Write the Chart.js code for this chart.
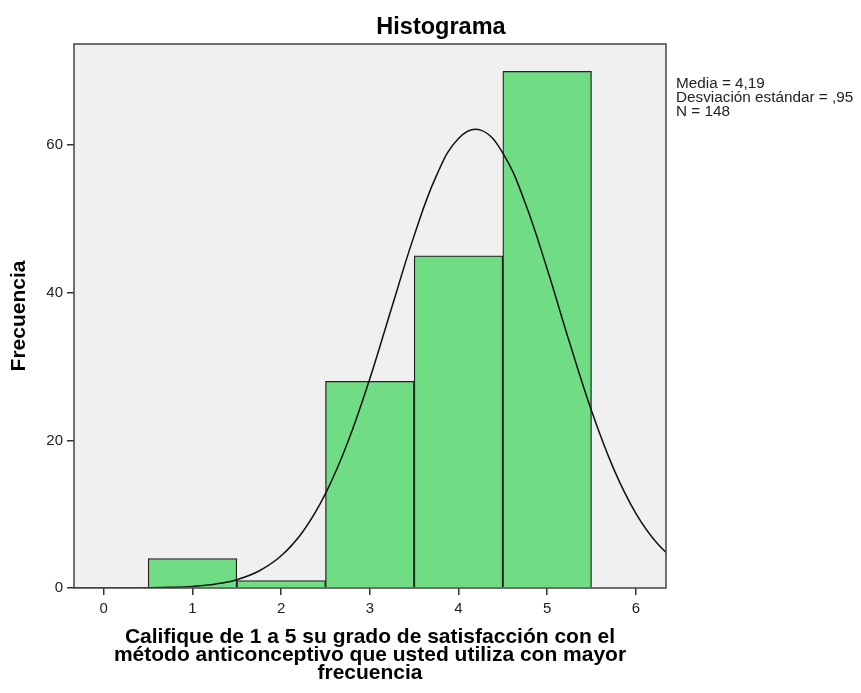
<!DOCTYPE html>
<html>
<head>
<meta charset="utf-8">
<script src="https://cdn.jsdelivr.net/npm/chart.js@4/dist/chart.umd.min.js"></script>
<style>
  body { margin: 0; background: #fff; }
  #wrap { position: relative; width: 861px; height: 693px; font-family: "Liberation Sans", Arial, sans-serif; }
  #title { position: absolute; left: 0; width: 882px; top: 13px; text-align: center; font-weight: bold; font-size: 23.5px; color: #000; }
  #stats { position: absolute; left: 676px; top: 76px; font-size: 15.3px; line-height: 14px; color: #222; }
</style>
</head>
<body>
<div id="wrap">
  <canvas id="hist" width="861" height="693"></canvas>
  <div id="title">Histograma</div>
  <div id="stats">Media = 4,19<br>Desviación estándar = ,95<br>N = 148</div>
</div>
<script>
// Histograma SPSS: barras de frecuencia + curva normal
const binCenters = [1, 2, 3, 4, 5];
const binCounts = [4, 1, 28, 45, 70];
const curveX = [-0.5, -0.25, 0, 0.25, 0.5, 0.75, 1, 1.25, 1.5, 1.75, 2, 2.25, 2.5, 2.75, 3, 3.25, 3.5, 3.75, 4, 4.25, 4.5, 4.75, 5, 5.25, 5.5, 5.75, 6, 6.25, 6.5];
const curveY = [0, 0, 0, 0.01, 0.03, 0.09, 0.22, 0.52, 1.13, 2.3, 4.36, 7.73, 12.78, 19.7, 28.35, 38.11, 47.74, 55.83, 60.91, 62.03, 58.93, 52.24, 43.21, 33.35, 24.02, 16.14, 10.12, 5.92, 3.23];
const xTicks = [0, 1, 2, 3, 4, 5, 6];
const yTicks = [0, 20, 40, 60];
const xTitle = ['Califique de 1 a 5 su grado de satisfacción con el', 'método anticonceptivo que usted utiliza con mayor', 'frecuencia'];

const plotFrame = {
  id: 'plotFrame',
  beforeDraw(chart) {
    const { ctx, chartArea: a } = chart;
    ctx.save();
    ctx.fillStyle = '#f0f0f0';
    ctx.fillRect(a.left, a.top, a.right - a.left, a.bottom - a.top);
    ctx.restore();
  },
  afterDatasetsDraw(chart) {
    const { ctx, chartArea: a } = chart;
    ctx.save();
    ctx.strokeStyle = '#444';
    ctx.lineWidth = 1.5;
    ctx.strokeRect(a.left, a.top, a.right - a.left, a.bottom - a.top);
    ctx.restore();
  }
};

const tickFont = { family: '"Liberation Sans", Arial, sans-serif', size: 15 };
const titleFont = { family: '"Liberation Sans", Arial, sans-serif', size: 21, weight: 'bold', lineHeight: '18px' };

new Chart(document.getElementById('hist'), {
  data: {
    datasets: [
      {
        type: 'line',
        data: curveX.map((x, i) => ({ x: x, y: curveY[i] })),
        borderColor: '#111',
        borderWidth: 1.5,
        pointRadius: 0,
        tension: 0.4,
        fill: false
      },
      {
        type: 'bar',
        data: binCenters.map((x, i) => ({ x: x, y: binCounts[i] })),
        backgroundColor: '#70dc84',
        borderColor: '#222',
        borderWidth: 1.3,
        barPercentage: 1,
        categoryPercentage: 1
      }
    ]
  },
  options: {
    responsive: false,
    animation: false,
    devicePixelRatio: 1,
    layout: { padding: { top: 44, right: 195, left: 0, bottom: 0 } },
    plugins: { legend: { display: false }, tooltip: { enabled: false } },
    scales: {
      x: {
        type: 'linear',
        offset: false,
        min: -0.336,
        max: 6.34,
        afterBuildTicks: s => { s.ticks = xTicks.map(v => ({ value: v })); },
        afterFit: s => { s.height = 105; },
        grid: { display: true, offset: false, drawOnChartArea: false, drawTicks: true, tickLength: 7, color: '#333', lineWidth: 1.5 },
        border: { display: false },
        ticks: { color: '#222', font: tickFont, padding: 5, maxRotation: 0 },
        title: { display: true, text: xTitle, color: '#000', font: titleFont, padding: { top: 0, bottom: 11 } }
      },
      y: {
        min: 0,
        max: 73.7,
        afterBuildTicks: s => { s.ticks = yTicks.map(v => ({ value: v })); },
        afterFit: s => { s.width = 74; },
        grid: { display: true, drawOnChartArea: false, drawTicks: true, tickLength: 7, color: '#333', lineWidth: 1.5 },
        border: { display: false },
        ticks: { color: '#222', font: tickFont, padding: 4 },
        title: { display: true, text: 'Frecuencia', color: '#000', font: Object.assign({}, titleFont, { lineHeight: 1 }), padding: { top: 9, bottom: 0 } }
      }
    }
  },
  plugins: [plotFrame]
});
</script>
</body>
</html>
